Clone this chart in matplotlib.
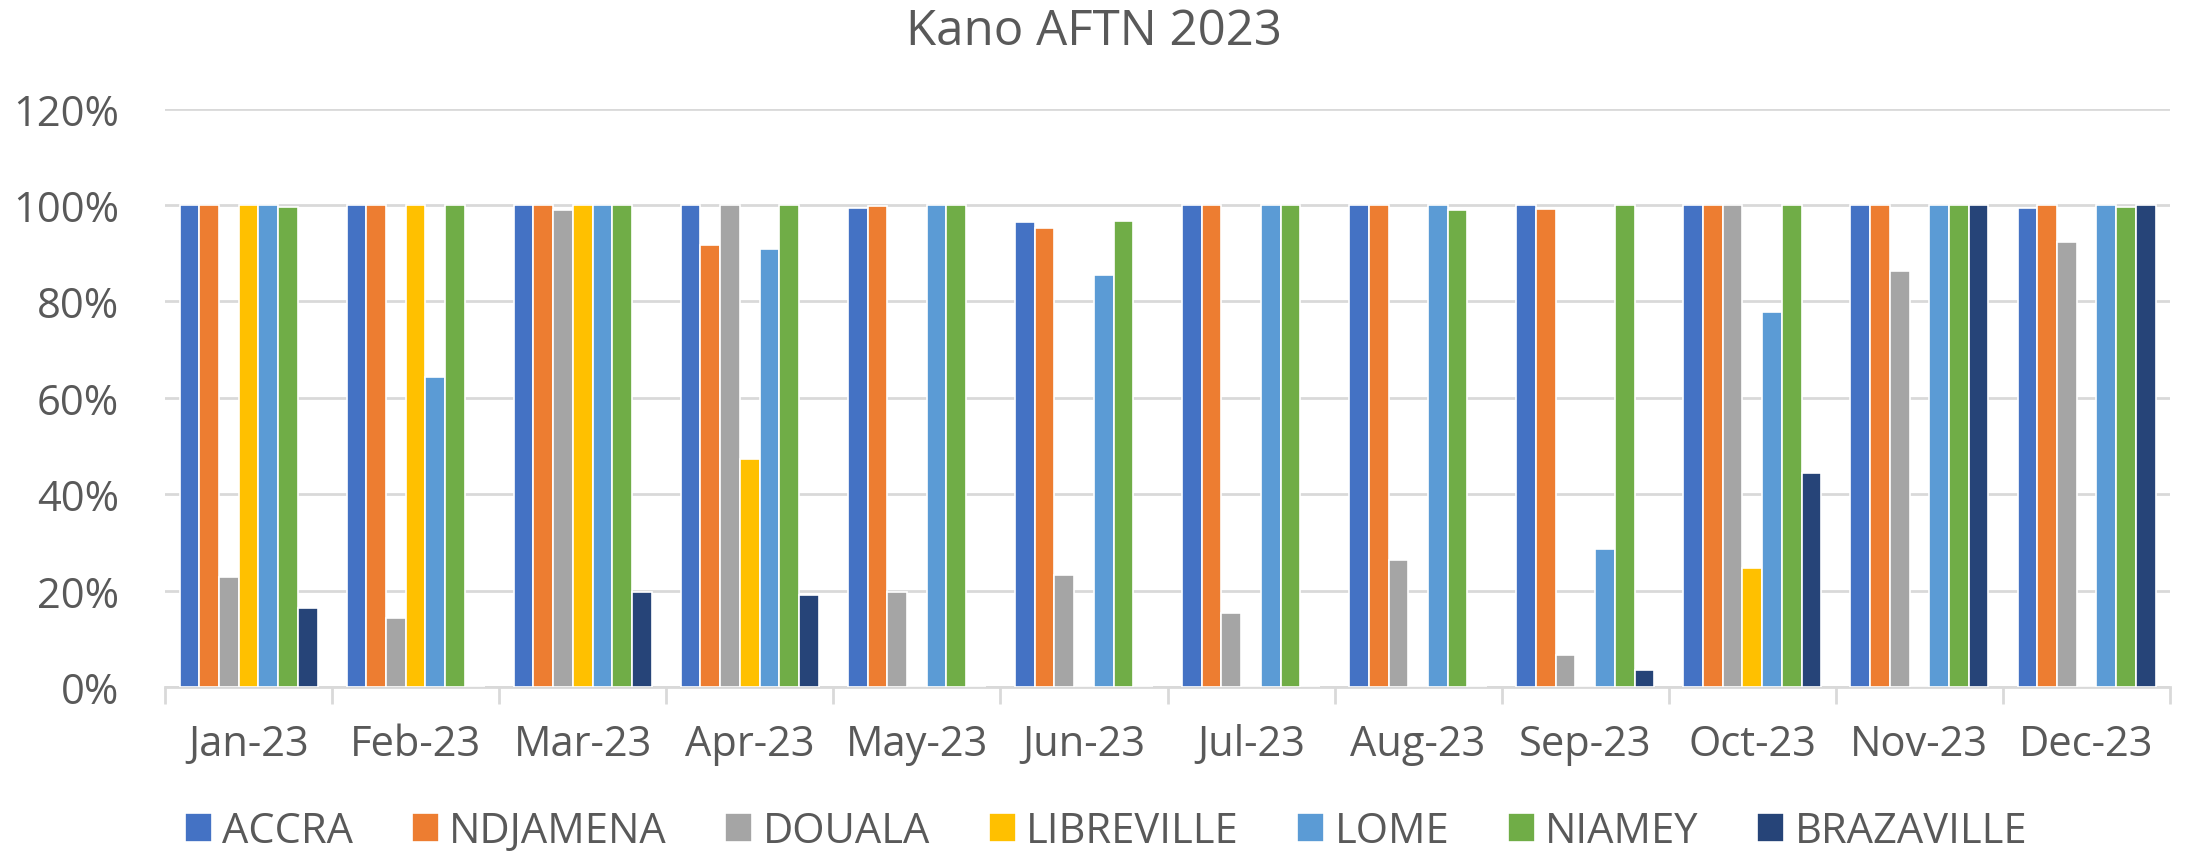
import matplotlib.pyplot as plt
import numpy as np
from matplotlib.ticker import PercentFormatter, MultipleLocator, FixedLocator

months = ["Jan-23", "Feb-23", "Mar-23", "Apr-23", "May-23", "Jun-23",
          "Jul-23", "Aug-23", "Sep-23", "Oct-23", "Nov-23", "Dec-23"]

accra = [100, 100, 100, 100, 99.3, 96.4, 100, 100, 100, 100, 100, 99.3]
ndjamena = [100, 100, 100, 91.8, 99.7, 95.3, 100, 100, 99.2, 100, 100, 100]
douala = [22.8, 14.3, 98.9, 100, 19.8, 23.3, 15.3, 26.3, 6.7, 100, 86.4, 92.4]
libreville = [100, 100, 100, 47.3, 0, 0, 0, 0, 0, 24.7, 0, 0]
lome = [100, 64.4, 100, 90.9, 100, 85.4, 100, 100, 28.6, 77.8, 100, 100]
niamey = [99.6, 100, 100, 100, 100, 96.7, 100, 99.0, 100, 100, 100, 99.6]
brazaville = [16.4, 0, 19.8, 19.0, 0, 0, 0, 0, 3.5, 44.3, 100, 100]

series = [
    ("ACCRA", accra, "#4472c4"),
    ("NDJAMENA", ndjamena, "#ed7d31"),
    ("DOUALA", douala, "#a5a5a5"),
    ("LIBREVILLE", libreville, "#ffc000"),
    ("LOME", lome, "#5b9bd5"),
    ("NIAMEY", niamey, "#70ad47"),
    ("BRAZAVILLE", brazaville, "#264478"),
]

plt.rcParams["font.family"] = ["Open Sans", "DejaVu Sans"]
text_color = "#595959"
grid_color = "#d9d9d9"

fig = plt.figure(figsize=(21.88, 8.53), dpi=100)
ax = fig.add_axes([0.0754, 0.1934, 0.9164, 0.6781])

x = np.arange(len(months))
slot = 0.118
for i, (name, vals, color) in enumerate(series):
    offset = (i - 3) * slot
    ax.bar(x + offset, vals, width=slot, color=color, edgecolor="white",
           linewidth=1.2, label=name, zorder=3)

ax.set_xlim(-0.5, len(months) - 0.5)
ax.set_ylim(0, 120)
ax.yaxis.set_major_locator(MultipleLocator(20))
ax.yaxis.set_major_formatter(PercentFormatter(decimals=0))
ax.grid(axis="y", color=grid_color, linewidth=2, zorder=0)

ax.set_xticks(x)
ax.set_xticklabels(months)
ax.xaxis.set_minor_locator(FixedLocator(np.arange(-0.5, len(months), 1)))
ax.tick_params(axis="x", which="major", length=0, pad=26, labelsize=30,
               labelcolor=text_color)
ax.tick_params(axis="x", which="minor", length=12, width=2, color=grid_color)
ax.tick_params(axis="y", length=0, pad=33, labelsize=30, labelcolor=text_color)

for side in ["top", "right", "left"]:
    ax.spines[side].set_visible(False)
ax.spines["bottom"].set_color(grid_color)
ax.spines["bottom"].set_linewidth(2)

fig.text(0.5, 0.962, "Kano AFTN 2023", ha="center", va="center",
         fontsize=35.5, color=text_color)

leg = fig.legend(loc="center", bbox_to_anchor=(0.5055, 0.025), ncol=7,
                 frameon=False, fontsize=30, handlelength=0.65,
                 handleheight=0.7, handletextpad=0.25, columnspacing=1.4,
                 borderaxespad=0, borderpad=0)
for t in leg.get_texts():
    t.set_color(text_color)

fig.savefig("out.png", dpi=100)
